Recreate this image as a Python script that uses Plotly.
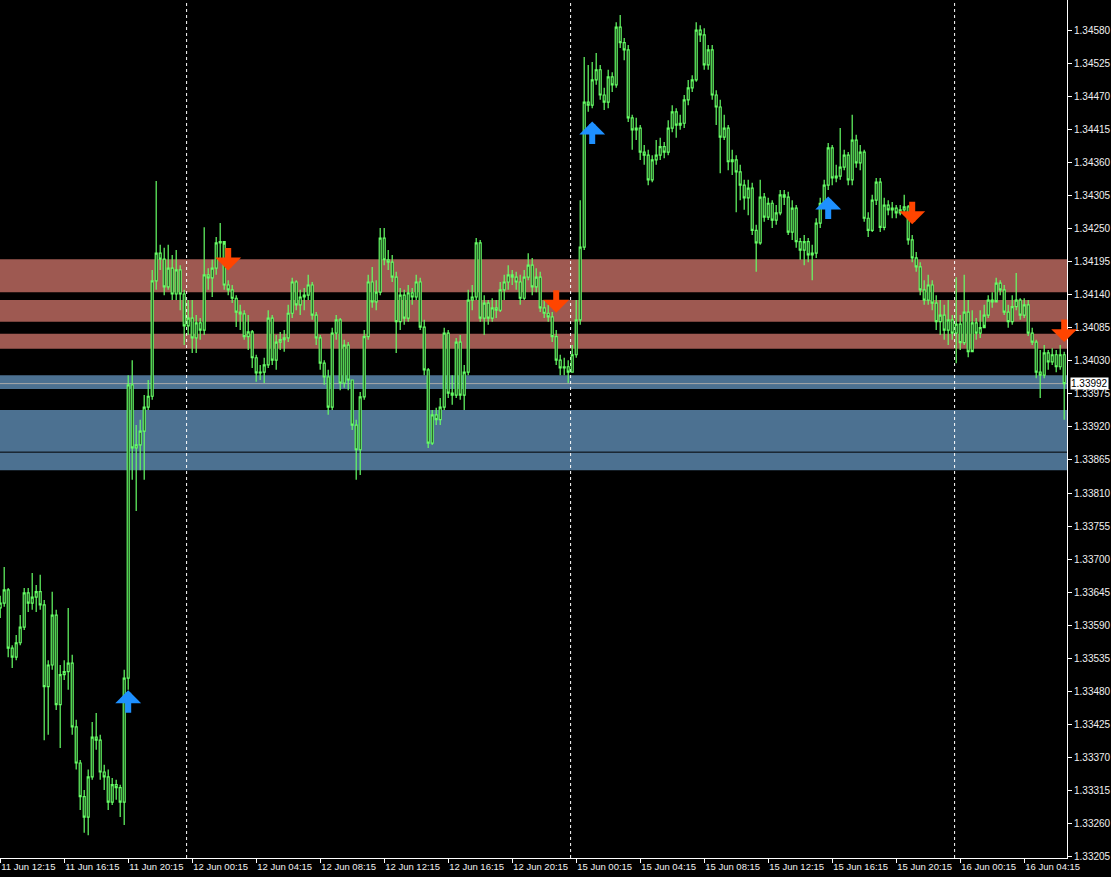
import plotly.graph_objects as go

# ---------------- data (15-minute bars) ----------------
first_open = 1.33619
close = [
1.33627, 1.33649, 1.33552, 1.33537, 1.33561, 1.33587, 1.33644, 1.33627, 1.33637, 1.33646,
1.33624, 1.33488, 1.33524, 1.33607, 1.33458, 1.33508, 1.33513, 1.33527, 1.33421, 1.33361,
1.33305, 1.33271, 1.33338, 1.33404, 1.33399, 1.33346, 1.33338, 1.33296, 1.33325, 1.33320,
1.33296, 1.33502, 1.33990, 1.33885, 1.33890, 1.33913, 1.33953, 1.33971, 1.34163, 1.34209,
1.34199, 1.34153, 1.34184, 1.34141, 1.34181, 1.34141, 1.34088, 1.34101, 1.34068, 1.34093,
1.34081, 1.34173, 1.34168, 1.34184, 1.34226, 1.34228, 1.34156, 1.34148, 1.34134, 1.34111,
1.34108, 1.34070, 1.34078, 1.34035, 1.34010, 1.34011, 1.34023, 1.34101, 1.34031, 1.34061,
1.34065, 1.34068, 1.34109, 1.34161, 1.34123, 1.34136, 1.34139, 1.34156, 1.34106, 1.34068,
1.34026, 1.34003, 1.33953, 1.34076, 1.34098, 1.33993, 1.34056, 1.33998, 1.33923, 1.33882,
1.33970, 1.34070, 1.34161, 1.34128, 1.34144, 1.34234, 1.34198, 1.34194, 1.34169, 1.34095,
1.34139, 1.34101, 1.34143, 1.34136, 1.34161, 1.34086, 1.34015, 1.33893, 1.33940, 1.33932,
1.33953, 1.34076, 1.33976, 1.33973, 1.34061, 1.33973, 1.34011, 1.34131, 1.34136, 1.34226,
1.34101, 1.34126, 1.34101, 1.34118, 1.34114, 1.34148, 1.34161, 1.34173, 1.34169, 1.34161,
1.34134, 1.34169, 1.34189, 1.34153, 1.34169, 1.34118, 1.34109, 1.34103, 1.34070, 1.34031,
1.34018, 1.34020, 1.34011, 1.34040, 1.34098, 1.34219, 1.34460, 1.34455, 1.34497, 1.34514,
1.34472, 1.34460, 1.34502, 1.34489, 1.34585, 1.34559, 1.34547, 1.34434, 1.34414, 1.34417,
1.34377, 1.34372, 1.34331, 1.34364, 1.34372, 1.34386, 1.34377, 1.34417, 1.34444, 1.34422,
1.34425, 1.34464, 1.34484, 1.34497, 1.34580, 1.34572, 1.34522, 1.34547, 1.34472, 1.34452,
1.34402, 1.34417, 1.34361, 1.34364, 1.34344, 1.34322, 1.34301, 1.34317, 1.34247, 1.34226,
1.34302, 1.34269, 1.34292, 1.34264, 1.34276, 1.34306, 1.34302, 1.34244, 1.34284, 1.34228,
1.34214, 1.34228, 1.34206, 1.34209, 1.34259, 1.34292, 1.34322, 1.34384, 1.34334, 1.34337,
1.34352, 1.34372, 1.34331, 1.34397, 1.34359, 1.34377, 1.34267, 1.34247, 1.34297, 1.34327,
1.34252, 1.34289, 1.34281, 1.34284, 1.34276, 1.34281, 1.34286, 1.34231, 1.34201, 1.34186,
1.34148, 1.34131, 1.34156, 1.34126, 1.34095, 1.34106, 1.34081, 1.34098, 1.34076, 1.34091,
1.34060, 1.34111, 1.34045, 1.34093, 1.34076, 1.34085, 1.34106, 1.34131, 1.34128, 1.34159,
1.34148, 1.34111, 1.34095, 1.34120, 1.34131, 1.34106, 1.34123, 1.34076, 1.34061, 1.34011,
1.34006, 1.34043, 1.34028, 1.34040, 1.34020, 1.34040, 1.33992]

high = [
1.33639, 1.33687, 1.33652, 1.33557, 1.33574, 1.33607, 1.33652, 1.33652, 1.33677, 1.33657,
1.33674, 1.33632, 1.33532, 1.33646, 1.33616, 1.33524, 1.33532, 1.33619, 1.33541, 1.33433,
1.33366, 1.33316, 1.33350, 1.33429, 1.33444, 1.33408, 1.33358, 1.33350, 1.33336, 1.33333,
1.33325, 1.33516, 1.34006, 1.34031, 1.33923, 1.33932, 1.33973, 1.33998, 1.34181, 1.34329,
1.34223, 1.34218, 1.34223, 1.34206, 1.34214, 1.34189, 1.34148, 1.34131, 1.34131, 1.34106,
1.34101, 1.34252, 1.34184, 1.34198, 1.34236, 1.34259, 1.34223, 1.34164, 1.34156, 1.34139,
1.34123, 1.34114, 1.34106, 1.34081, 1.34040, 1.34023, 1.34035, 1.34114, 1.34106, 1.34073,
1.34078, 1.34081, 1.34123, 1.34168, 1.34164, 1.34148, 1.34151, 1.34173, 1.34161, 1.34111,
1.34073, 1.34031, 1.34015, 1.34085, 1.34106, 1.34101, 1.34065, 1.34061, 1.33998, 1.33932,
1.33978, 1.34081, 1.34173, 1.34186, 1.34164, 1.34251, 1.34251, 1.34214, 1.34206, 1.34178,
1.34151, 1.34148, 1.34156, 1.34151, 1.34173, 1.34168, 1.34098, 1.34018, 1.33948, 1.33952,
1.33968, 1.34085, 1.34081, 1.34006, 1.34068, 1.34073, 1.34023, 1.34148, 1.34156, 1.34234,
1.34231, 1.34139, 1.34131, 1.34134, 1.34131, 1.34161, 1.34173, 1.34189, 1.34181, 1.34178,
1.34173, 1.34181, 1.34209, 1.34201, 1.34184, 1.34178, 1.34131, 1.34123, 1.34111, 1.34081,
1.34040, 1.34035, 1.34031, 1.34056, 1.34131, 1.34297, 1.34535, 1.34522, 1.34527, 1.34542,
1.34522, 1.34484, 1.34514, 1.34510, 1.34593, 1.34605, 1.34567, 1.34555, 1.34439, 1.34434,
1.34422, 1.34389, 1.34381, 1.34372, 1.34397, 1.34401, 1.34394, 1.34430, 1.34455, 1.34450,
1.34439, 1.34472, 1.34497, 1.34505, 1.34593, 1.34588, 1.34583, 1.34555, 1.34555, 1.34480,
1.34464, 1.34439, 1.34422, 1.34381, 1.34372, 1.34356, 1.34331, 1.34331, 1.34326, 1.34256,
1.34331, 1.34309, 1.34301, 1.34297, 1.34289, 1.34314, 1.34314, 1.34311, 1.34297, 1.34289,
1.34234, 1.34239, 1.34234, 1.34223, 1.34267, 1.34301, 1.34331, 1.34392, 1.34389, 1.34356,
1.34417, 1.34381, 1.34377, 1.34439, 1.34406, 1.34389, 1.34381, 1.34277, 1.34306, 1.34334,
1.34334, 1.34301, 1.34297, 1.34294, 1.34289, 1.34289, 1.34306, 1.34289, 1.34239, 1.34211,
1.34194, 1.34164, 1.34173, 1.34164, 1.34139, 1.34131, 1.34123, 1.34131, 1.34106, 1.34169,
1.34106, 1.34173, 1.34131, 1.34114, 1.34101, 1.34114, 1.34123, 1.34139, 1.34144, 1.34168,
1.34164, 1.34156, 1.34123, 1.34139, 1.34176, 1.34134, 1.34134, 1.34131, 1.34085, 1.34065,
1.34048, 1.34056, 1.34048, 1.34051, 1.34048, 1.34056, 1.34045]

low = [
1.33602, 1.33621, 1.33537, 1.33519, 1.33532, 1.33557, 1.33582, 1.33612, 1.33616, 1.33612,
1.33616, 1.33399, 1.33408, 1.33516, 1.33449, 1.33386, 1.33499, 1.33483, 1.33408, 1.33350,
1.33283, 1.33245, 1.33241, 1.33333, 1.33383, 1.33333, 1.33316, 1.33283, 1.33291, 1.33300,
1.33271, 1.33258, 1.33483, 1.33832, 1.33780, 1.33848, 1.33832, 1.33948, 1.33965, 1.34148,
1.34181, 1.34139, 1.34148, 1.34131, 1.34131, 1.34114, 1.34056, 1.34073, 1.34043, 1.34043,
1.34065, 1.34073, 1.34148, 1.34136, 1.34173, 1.34201, 1.34148, 1.34139, 1.34126, 1.34086,
1.34081, 1.34065, 1.34048, 1.34018, 1.33995, 1.33998, 1.33993, 1.34018, 1.34023, 1.34015,
1.34048, 1.34045, 1.34061, 1.34101, 1.34114, 1.34106, 1.34114, 1.34131, 1.34098, 1.34056,
1.34015, 1.33990, 1.33940, 1.33948, 1.34065, 1.33981, 1.33985, 1.33981, 1.33915, 1.33832,
1.33840, 1.33965, 1.34065, 1.34118, 1.34114, 1.34139, 1.34189, 1.34181, 1.34161, 1.34043,
1.34081, 1.34090, 1.34095, 1.34123, 1.34131, 1.34081, 1.34006, 1.33885, 1.33890, 1.33923,
1.33923, 1.33948, 1.33968, 1.33957, 1.33968, 1.33965, 1.33948, 1.34006, 1.34114, 1.34131,
1.34095, 1.34073, 1.34090, 1.34095, 1.34101, 1.34111, 1.34131, 1.34148, 1.34156, 1.34148,
1.34123, 1.34131, 1.34164, 1.34139, 1.34144, 1.34111, 1.34101, 1.34095, 1.34061, 1.34023,
1.34006, 1.34006, 1.33993, 1.34011, 1.34035, 1.34090, 1.34214, 1.34444, 1.34450, 1.34489,
1.34464, 1.34447, 1.34450, 1.34477, 1.34484, 1.34550, 1.34530, 1.34427, 1.34381, 1.34397,
1.34364, 1.34356, 1.34322, 1.34327, 1.34356, 1.34364, 1.34367, 1.34372, 1.34410, 1.34401,
1.34414, 1.34417, 1.34455, 1.34477, 1.34494, 1.34560, 1.34514, 1.34514, 1.34464, 1.34422,
1.34342, 1.34397, 1.34347, 1.34339, 1.34277, 1.34297, 1.34281, 1.34272, 1.34239, 1.34178,
1.34223, 1.34261, 1.34264, 1.34251, 1.34256, 1.34272, 1.34289, 1.34239, 1.34231, 1.34218,
1.34198, 1.34189, 1.34194, 1.34164, 1.34201, 1.34251, 1.34284, 1.34314, 1.34322, 1.34327,
1.34331, 1.34347, 1.34322, 1.34322, 1.34351, 1.34347, 1.34261, 1.34236, 1.34244, 1.34289,
1.34244, 1.34247, 1.34272, 1.34267, 1.34267, 1.34272, 1.34272, 1.34223, 1.34194, 1.34178,
1.34139, 1.34123, 1.34123, 1.34114, 1.34081, 1.34073, 1.34065, 1.34056, 1.34065, 1.34026,
1.34048, 1.34056, 1.34036, 1.34048, 1.34065, 1.34068, 1.34090, 1.34101, 1.34118, 1.34131,
1.34139, 1.34106, 1.34085, 1.34090, 1.34114, 1.34098, 1.34101, 1.34071, 1.34056, 1.34001,
1.33968, 1.34001, 1.34015, 1.34023, 1.34011, 1.34015, 1.33932]

# time-axis labels (every 16 bars of 15 min)
tick_bars = [0, 16, 32, 48, 64, 80, 96, 112, 128, 144, 160, 176, 192, 208, 224, 240, 256]
tick_labels = ["11 Jun 12:15", "11 Jun 16:15", "11 Jun 20:15", "12 Jun 00:15", "12 Jun 04:15",
               "12 Jun 08:15", "12 Jun 12:15", "12 Jun 16:15", "12 Jun 20:15", "15 Jun 00:15",
               "15 Jun 04:15", "15 Jun 08:15", "15 Jun 12:15", "15 Jun 16:15", "15 Jun 20:15",
               "16 Jun 00:15", "16 Jun 04:15"]
day_start_bars = [47, 143, 239]

# supply (red) and demand (blue) zones: (low, high)
supply_zones = [(1.34144, 1.34199), (1.34095, 1.34131), (1.34050, 1.34075)]
demand_zones = [(1.33983, 1.34006), (1.33848, 1.33948)]
demand_mid_line = 1.33878
bid_price = 1.33992

# signal arrows
buy_bars = [32, 148, 207]
buy_prices = [1.33482, 1.34428, 1.34303]
sell_bars = [57, 139, 228, 266]
sell_prices = [1.34180, 1.34110, 1.34257, 1.34061]

# ---------------- figure ----------------
opens = [first_open] + close[:-1]
bars = list(range(len(close)))

GREEN = "#66ff66"
RED_ZONE = "rgb(158,89,81)"
BLUE_ZONE = "rgb(76,113,145)"
FONT = "Liberation Sans"

fig = go.Figure()
fig.add_trace(go.Candlestick(
    x=bars, open=opens, high=high, low=low, close=close,
    increasing=dict(line=dict(color=GREEN, width=1.2), fillcolor="black"),
    decreasing=dict(line=dict(color=GREEN, width=1.2), fillcolor="black"),
    whiskerwidth=0, hoverinfo="skip", showlegend=False,
))

shapes = []
for lo, hi in supply_zones:
    shapes.append(dict(type="rect", xref="paper", x0=0, x1=1, yref="y", y0=lo, y1=hi,
                       fillcolor=RED_ZONE, line=dict(width=0), layer="below"))
for lo, hi in demand_zones:
    shapes.append(dict(type="rect", xref="paper", x0=0, x1=1, yref="y", y0=lo, y1=hi,
                       fillcolor=BLUE_ZONE, line=dict(width=0), layer="below"))
shapes.append(dict(type="line", xref="paper", x0=0, x1=1, yref="y", y0=demand_mid_line, y1=demand_mid_line,
                   line=dict(color="black", width=1), layer="below"))
shapes.append(dict(type="line", xref="paper", x0=0, x1=1, yref="y", y0=bid_price, y1=bid_price,
                   line=dict(color="#a8a8a8", width=1), layer="below"))
for b in day_start_bars:
    shapes.append(dict(type="line", xref="x", x0=b - 0.4, x1=b - 0.4, yref="paper", y0=0, y1=1,
                       line=dict(color="white", width=1, dash="3px,3px"), layer="below"))

annotations = []
for b, p in zip(buy_bars, buy_prices):
    annotations.append(dict(x=b, y=p, xref="x", yref="y", text="", showarrow=True,
                            ax=0, ay=24, arrowhead=1, arrowsize=0.72, arrowwidth=6,
                            arrowcolor="rgb(30,144,255)"))
for b, p in zip(sell_bars, sell_prices):
    annotations.append(dict(x=b, y=p, xref="x", yref="y", text="", showarrow=True,
                            ax=0, ay=-24, arrowhead=1, arrowsize=0.72, arrowwidth=6,
                            arrowcolor="rgb(255,69,0)"))
annotations.append(dict(x=1, xref="paper", xanchor="left", xshift=3, y=bid_price, yref="y",
                        text=f"{bid_price:.5f}", showarrow=False, bgcolor="white",
                        font=dict(color="black", size=10, family=FONT), borderpad=0))

fig.update_layout(
    width=1111, height=877, autosize=False,
    margin=dict(l=0, r=44, t=0, b=19),
    paper_bgcolor="black", plot_bgcolor="black",
    shapes=shapes, annotations=annotations, showlegend=False,
    xaxis=dict(range=[-0.05, 266.7], rangeslider=dict(visible=False), showgrid=False, zeroline=False,
               tickmode="array", tickvals=tick_bars, ticktext=tick_labels,
               ticks="outside", ticklen=4, tickcolor="white", showline=True, linecolor="white",
               ticklabelposition="outside right",
               tickfont=dict(color="#f0f0f0", size=9.5, family=FONT)),
    yaxis=dict(range=[1.33203, 1.34630], side="right", showgrid=False, zeroline=False,
               tick0=1.33205, dtick=0.00055, tickformat=".5f",
               ticks="outside", ticklen=4, tickcolor="white", showline=True, linecolor="white",
               tickfont=dict(color="#f0f0f0", size=10, family=FONT)),
)

fig.write_html("out.html", config={"displayModeBar": False},
               post_script="document.body.style.margin='0';")
